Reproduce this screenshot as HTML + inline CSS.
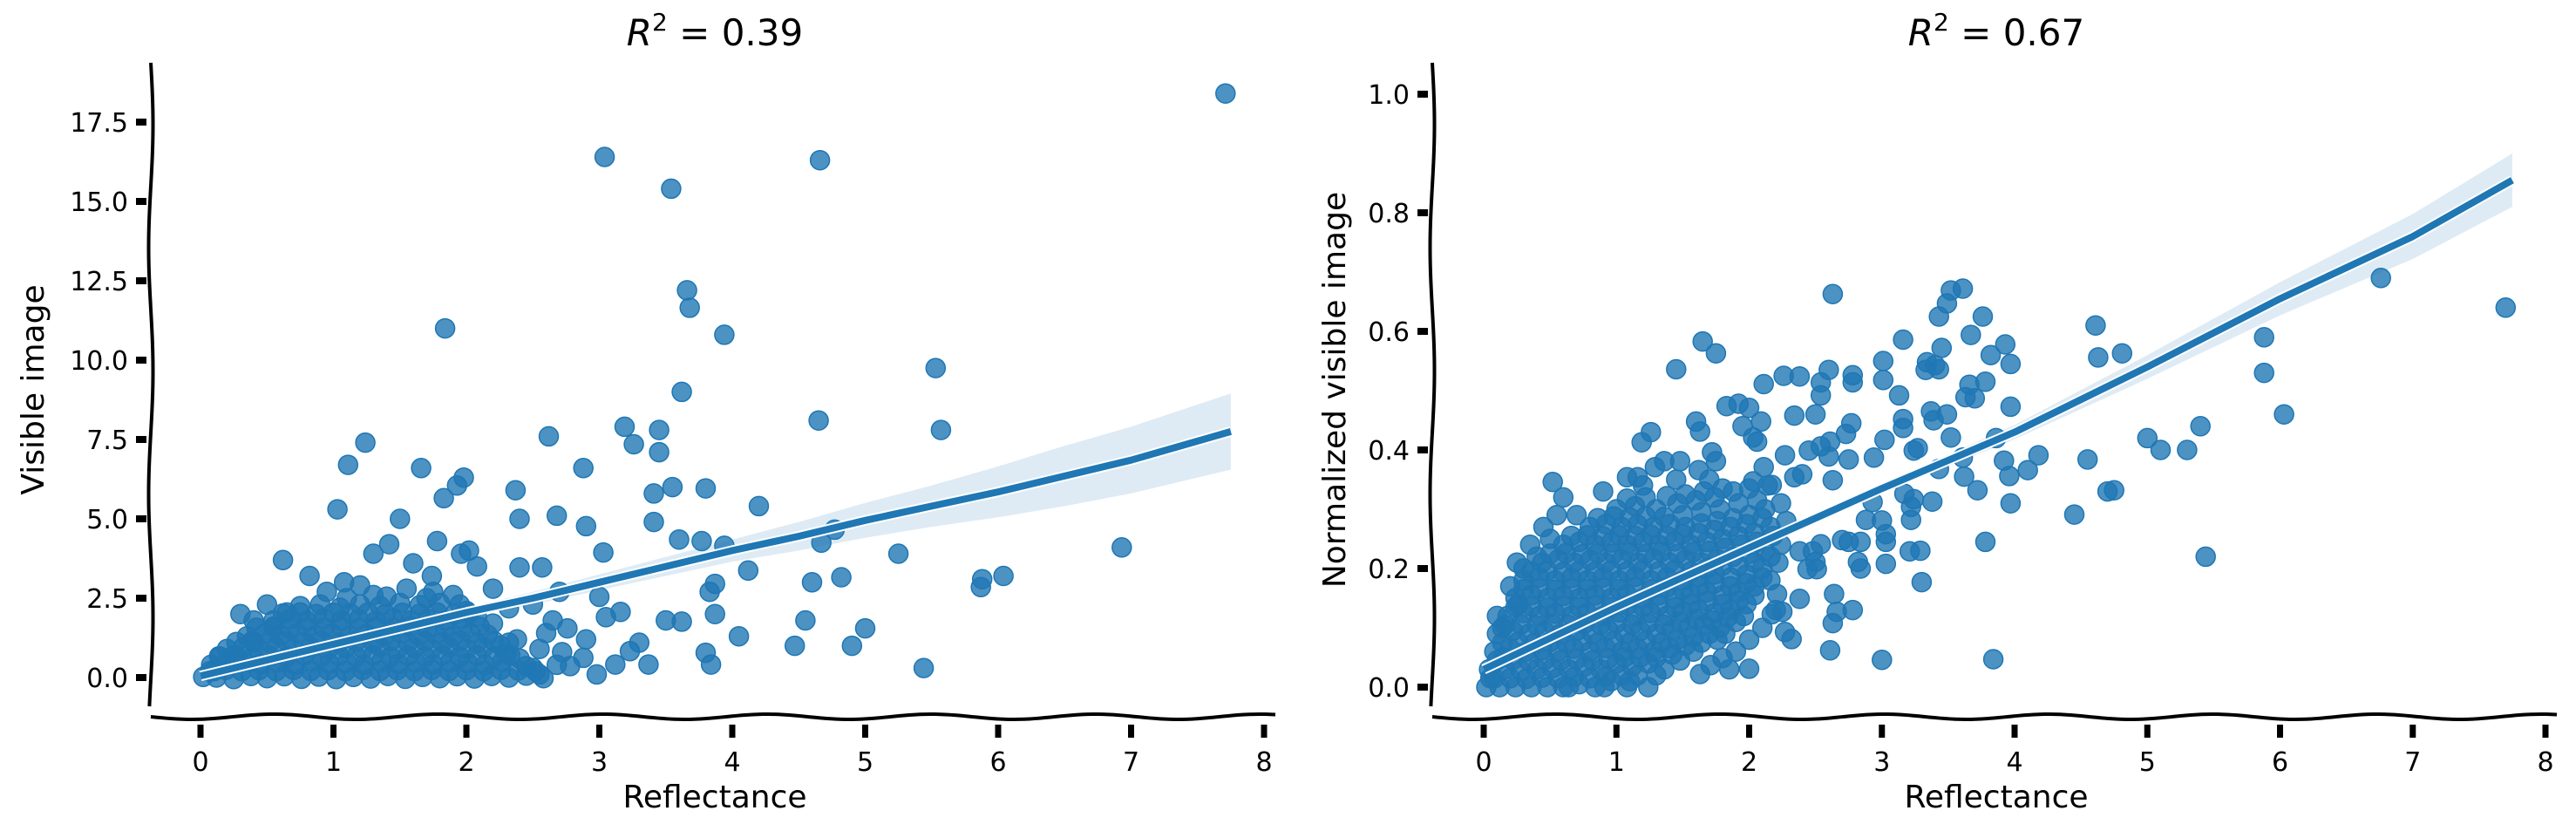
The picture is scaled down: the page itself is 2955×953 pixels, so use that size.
<!DOCTYPE html>
<html><head><meta charset="utf-8">
<style>
html,body{margin:0;padding:0;background:#fff;}
svg{display:block;}
text{font-family:"DejaVu Sans","Liberation Sans",sans-serif;fill:#000;}
</style></head>
<body>
<svg id="chart" width="2955" height="953" viewBox="0 0 2955 953" xmlns="http://www.w3.org/2000/svg">
  <g id="left-panel"></g>
  <g id="right-panel"></g>
</svg>
<script>
// ---------- LEFT PANEL DATA ----------
const leftXTicks = [0,1,2,3,4,5,6,7,8];
const leftYTicks = [0.0,2.5,5.0,7.5,10.0,12.5,15.0,17.5];
const leftYTickLabels = ["0.0","2.5","5.0","7.5","10.0","12.5","15.0","17.5"];
const leftOutliers = [
[7.71,18.4],[3.04,16.4],[4.66,16.3],[3.54,15.4],[3.66,12.2],[3.68,11.65],[1.84,11.0],[3.94,10.8],
[5.53,9.75],[3.62,9.0],[4.65,8.1],[5.57,7.8],[3.19,7.9],[3.45,7.8],[2.62,7.6],[1.24,7.4],[3.26,7.35],
[3.45,7.1],[1.11,6.7],[1.66,6.6],[2.88,6.6],[1.98,6.3],[1.93,6.05],[3.55,6.0],[3.80,5.96],[2.37,5.9],
[3.41,5.8],[1.83,5.65],[4.2,5.4],[1.03,5.3],[3.41,4.9],[2.68,5.1],[2.4,5.0],[1.5,5.0],[4.67,4.25],
[3.77,4.3],[3.6,4.35],[2.9,4.77],[4.77,4.66],[3.94,4.15],[5.25,3.9],[6.93,4.1],[4.82,3.16],[3.03,3.94],
[4.12,3.37],[3.87,2.95],[4.6,3.0],[5.88,3.1],[6.04,3.2],[5.87,2.85],[5.0,1.55],[4.9,1.0],[4.55,1.8],
[4.47,1.0],[5.44,0.3],[4.05,1.3],[3.8,0.78],[3.84,0.41],[3.5,1.8],[3.3,1.1],[3.12,0.41],[3.37,0.41],
[2.76,1.55],[2.88,0.62],[3.87,2.0],[3.62,1.76],[3.83,2.7],[3.16,2.07],[2.7,2.7],[2.57,3.47],[2.4,3.47],
[2.32,2.18],[3.0,2.54],[2.78,0.36],[2.45,0.36],[3.23,0.83],[1.96,3.9],[1.78,4.3],[1.42,4.2],[1.6,3.6],
[1.3,3.9],[0.62,3.7],[0.82,3.2],[1.08,3.0],[1.2,2.9],[2.02,4.0],[2.08,3.5],[1.74,3.2],[2.2,2.8],
[2.5,2.3],[2.6,1.4],[2.65,1.8],[2.72,0.8],[2.55,0.9],[2.9,1.2],[3.05,1.9],[2.98,0.1],[2.55,0.1],[2.68,0.4]
];
const leftCluster = [
[0.02,0.02],[0.12,0.0],[0.25,-0.05],[0.38,0.05],[0.5,-0.02],[0.63,0.04],[0.76,-0.04],[0.89,0.03],[1.02,-0.05],[1.15,0.02],
[1.28,-0.03],[1.41,0.05],[1.54,-0.04],[1.67,0.02],[1.8,-0.02],[1.93,0.04],[2.06,-0.03],[2.19,0.05],[2.32,0.0],[2.45,0.06],[2.58,-0.02],
[0.08,0.4],[0.2,0.45],[0.32,0.5],[0.45,0.42],[0.58,0.48],[0.71,0.4],[0.84,0.5],[0.97,0.44],[1.1,0.47],[1.23,0.4],
[1.36,0.5],[1.49,0.43],[1.62,0.48],[1.75,0.41],[1.88,0.5],[2.01,0.45],[2.14,0.4],[2.27,0.5],[2.4,0.6],
[0.2,0.9],[0.32,0.95],[0.44,0.88],[0.57,0.96],[0.7,0.9],[0.83,0.95],[0.96,0.87],[1.09,0.93],[1.22,0.9],[1.35,0.97],
[1.48,0.88],[1.61,0.94],[1.74,0.9],[1.87,0.96],[2.0,0.9],[2.13,0.95],[2.26,1.0],[2.38,1.2],
[0.35,1.3],[0.48,1.38],[0.6,1.32],[0.73,1.4],[0.86,1.33],[0.99,1.38],[1.12,1.3],[1.25,1.37],[1.38,1.32],[1.51,1.4],
[1.64,1.33],[1.77,1.38],[1.9,1.3],[2.03,1.4],[2.16,1.35],
[0.55,1.8],[0.68,1.85],[0.8,1.78],[0.93,1.86],[1.06,1.8],[1.19,1.84],[1.32,1.78],[1.45,1.86],[1.58,1.8],[1.71,1.85],[1.84,1.8],[1.97,1.86],[2.08,1.9],
[0.75,2.25],[0.9,2.3],[1.05,2.2],[1.2,2.3],[1.35,2.25],[1.5,2.35],[1.65,2.28],[1.8,2.35],[1.95,2.3],
[0.5,2.3],[0.4,1.8],[0.3,2.0],[0.95,2.7],[1.3,2.6],[1.55,2.8],[1.75,2.7],[1.9,2.6],
[0.1,0.2],[0.25,0.7],[0.15,0.65],[0.4,1.1],[0.55,1.6],[0.65,2.05],[1.1,2.5],[1.4,2.55],[1.7,2.5],[2.0,2.1],[2.2,1.7],[2.3,0.75],[2.5,0.3],
[0.07,0.2],[0.19,0.24],[0.31,0.2],[0.44,0.23],[0.57,0.2],[0.7,0.24],[0.83,0.21],[0.96,0.23],[1.09,0.2],[1.22,0.24],[1.35,0.21],[1.48,0.23],
[1.61,0.2],[1.74,0.24],[1.87,0.21],[2.0,0.23],[2.13,0.2],[2.26,0.24],[2.39,0.22],[2.52,0.2],
[0.14,0.67],[0.27,0.7],[0.39,0.65],[0.52,0.69],[0.65,0.66],[0.78,0.7],[0.91,0.65],[1.04,0.69],[1.17,0.66],[1.3,0.7],[1.43,0.65],[1.56,0.69],
[1.69,0.66],[1.82,0.7],[1.95,0.65],[2.08,0.69],[2.21,0.66],[2.33,0.7],
[0.27,1.12],[0.39,1.15],[0.52,1.1],[0.65,1.14],[0.78,1.11],[0.91,1.15],[1.04,1.1],[1.17,1.14],[1.3,1.11],[1.43,1.15],[1.56,1.1],[1.69,1.14],
[1.82,1.11],[1.95,1.15],[2.08,1.1],[2.21,1.14],[2.32,1.1],
[0.42,1.57],[0.55,1.6],[0.67,1.55],[0.8,1.59],[0.93,1.56],[1.06,1.6],[1.19,1.55],[1.32,1.59],[1.45,1.56],[1.58,1.6],[1.71,1.55],[1.84,1.59],[1.97,1.56],[2.1,1.6],
[0.62,2.02],[0.75,2.05],[0.87,2.0],[1.0,2.04],[1.13,2.01],[1.26,2.05],[1.39,2.0],[1.52,2.04],[1.65,2.01],[1.78,2.05],[1.91,2.0],[2.02,2.02]
];
const leftFitX  = [0,0.5,1,1.5,2,2.5,3,3.5,4,4.5,5,5.5,6,6.5,7,7.75];
const leftFitY  = [0.05,0.55,1.05,1.55,2.05,2.5,3.0,3.5,4.0,4.45,4.95,5.4,5.85,6.35,6.85,7.75];
const leftCiHalf= [0.1,0.08,0.08,0.1,0.15,0.2,0.25,0.3,0.35,0.45,0.55,0.65,0.8,0.95,1.05,1.2];

// ---------- RIGHT PANEL DATA ----------
const rightXTicks = [0,1,2,3,4,5,6,7,8];
const rightYTicks = [0.0,0.2,0.4,0.6,0.8,1.0];
const rightYTickLabels = ["0.0","0.2","0.4","0.6","0.8","1.0"];
const rightOutliers = [
[7.7,0.64],[6.76,0.69],[5.88,0.59],[5.88,0.53],[6.03,0.46],[5.4,0.44],[5.3,0.4],[5.44,0.22],[5.1,0.4],[5.0,0.42],[4.7,0.33],
[2.63,0.663],[3.52,0.669],[3.61,0.672],[3.49,0.647],[3.43,0.625],[3.76,0.625],[4.61,0.61],[3.16,0.586],[3.67,0.594],[3.93,0.578],
[3.45,0.572],[1.65,0.583],[1.75,0.563],[1.45,0.536],[3.82,0.56],[3.97,0.545],[4.63,0.556],[4.81,0.563],[3.01,0.55],
[3.34,0.548],[3.4,0.543],[3.33,0.535],[3.43,0.536],[2.6,0.535],[2.26,0.525],[2.38,0.524],[2.11,0.511],[2.54,0.514],
[2.54,0.492],[2.78,0.526],[2.78,0.514],[3.01,0.518],[3.13,0.492],[3.66,0.51],[3.78,0.515],[3.63,0.489],[3.7,0.487],
[1.83,0.474],[1.92,0.478],[2.0,0.471],[3.97,0.473],[3.37,0.465],[3.49,0.46],[3.39,0.45],[2.34,0.458],[2.5,0.46],
[3.16,0.452],[3.16,0.437],[2.09,0.448],[1.6,0.448],[1.63,0.431],[1.95,0.44],[2.77,0.445],[2.73,0.427],[1.26,0.43],
[1.19,0.413],[2.03,0.421],[2.06,0.414],[3.02,0.417],[3.52,0.421],[3.86,0.42],[3.27,0.403],[3.24,0.399],[2.61,0.414],
[2.54,0.406],[2.45,0.399],[2.6,0.389],[2.27,0.391],[2.75,0.384],[2.94,0.387],[3.61,0.387],[3.92,0.382],[4.18,0.391],
[4.55,0.384],[1.72,0.396],[1.75,0.381],[1.36,0.381],[1.48,0.381],[1.29,0.371],[2.11,0.371],[1.62,0.366],[3.43,0.368],
[3.62,0.355],[3.96,0.356],[4.1,0.366],[1.08,0.354],[1.16,0.354],[0.52,0.346],[2.4,0.359],[2.34,0.354],[2.63,0.349],
[2.17,0.341],[2.03,0.347],[3.72,0.332],[3.97,0.31],[4.75,0.332],[4.45,0.291],[3.17,0.326],[3.24,0.317],[3.22,0.304],
[3.38,0.313],[3.22,0.282],[2.93,0.312],[2.88,0.282],[3.0,0.281],[3.03,0.258],[3.03,0.245],[2.84,0.245],[2.75,0.245],
[2.7,0.248],[3.78,0.245],[3.29,0.23],[3.21,0.229],[3.3,0.177],[2.82,0.211],[2.84,0.2],[3.03,0.208],[2.54,0.241],
[2.48,0.229],[2.38,0.229],[2.5,0.211],[2.44,0.199],[2.51,0.199],[2.64,0.157],[2.66,0.127],[2.63,0.108],[2.78,0.13],
[2.38,0.149],[2.61,0.062],[3.0,0.046],[3.84,0.047],[2.0,0.031],[2.27,0.093],[2.32,0.081],[2.17,0.123],[2.25,0.127],
[2.21,0.157],[1.8,0.049],[1.71,0.037],[1.63,0.022],[1.24,0.0],[1.08,0.0],[0.91,0.0],[0.64,0.0]
];
const rightCluster = [
[0.02,0.0],[0.12,0.0],[0.24,0.0],[0.36,0.0],[0.48,0.0],[0.6,0.0],[0.72,0.005],[0.84,0.0],[0.96,0.01],[1.1,0.01],
[0.04,0.03],[0.16,0.03],[0.28,0.028],[0.4,0.03],[0.52,0.032],[0.64,0.03],[0.76,0.035],[0.88,0.03],[1.0,0.04],[1.12,0.035],[1.24,0.04],[1.36,0.03],[1.48,0.045],
[0.08,0.06],[0.2,0.065],[0.32,0.06],[0.44,0.062],[0.56,0.06],[0.68,0.065],[0.8,0.06],[0.92,0.066],[1.04,0.06],[1.16,0.065],[1.28,0.06],[1.4,0.066],[1.52,0.07],[1.64,0.075],[1.76,0.08],
[0.1,0.09],[0.22,0.095],[0.34,0.09],[0.46,0.094],[0.58,0.09],[0.7,0.095],[0.82,0.09],[0.94,0.096],[1.06,0.09],[1.18,0.095],[1.3,0.09],[1.42,0.096],[1.54,0.1],[1.66,0.105],[1.78,0.1],[1.9,0.11],
[0.18,0.12],[0.3,0.125],[0.42,0.12],[0.54,0.124],[0.66,0.12],[0.78,0.125],[0.9,0.12],[1.02,0.126],[1.14,0.12],[1.26,0.125],[1.38,0.12],[1.5,0.126],[1.62,0.13],[1.74,0.125],[1.86,0.13],[1.98,0.14],
[0.24,0.15],[0.36,0.155],[0.48,0.15],[0.6,0.154],[0.72,0.15],[0.84,0.155],[0.96,0.15],[1.08,0.156],[1.2,0.15],[1.32,0.155],[1.44,0.15],[1.56,0.156],[1.68,0.16],[1.8,0.155],[1.92,0.16],[2.04,0.17],[2.16,0.18],
[0.3,0.18],[0.42,0.185],[0.54,0.18],[0.66,0.184],[0.78,0.18],[0.9,0.185],[1.02,0.18],[1.14,0.186],[1.26,0.18],[1.38,0.185],[1.5,0.18],[1.62,0.186],[1.74,0.19],[1.86,0.185],[1.98,0.19],[2.1,0.2],[2.22,0.21],
[0.44,0.21],[0.56,0.215],[0.68,0.21],[0.8,0.214],[0.92,0.21],[1.04,0.215],[1.16,0.21],[1.28,0.216],[1.4,0.21],[1.52,0.215],[1.64,0.21],[1.76,0.216],[1.88,0.22],[2.0,0.225],[2.12,0.23],[2.24,0.24],
[0.6,0.24],[0.72,0.245],[0.84,0.24],[0.96,0.244],[1.08,0.24],[1.2,0.245],[1.32,0.24],[1.44,0.246],[1.56,0.24],[1.68,0.245],[1.8,0.25],[1.92,0.255],[2.04,0.26],[2.16,0.27],[2.28,0.28],
[0.8,0.27],[0.92,0.275],[1.04,0.27],[1.16,0.274],[1.28,0.27],[1.4,0.275],[1.52,0.27],[1.64,0.276],[1.76,0.28],[1.88,0.285],[2.0,0.29],[2.12,0.3],[2.24,0.31],
[1.0,0.3],[1.14,0.305],[1.3,0.3],[1.46,0.31],[1.6,0.315],[1.74,0.32],[1.88,0.33],[2.0,0.335],[2.14,0.34],
[0.14,0.1],[0.26,0.14],[0.5,0.25],[0.7,0.29],[0.6,0.32],[0.9,0.33],[1.2,0.34],[1.45,0.35],[1.7,0.35],
[0.1,0.12],[0.2,0.17],[0.3,0.2],[0.35,0.24],[0.45,0.27],[0.55,0.29],[0.25,0.21],[0.4,0.22],
[1.9,0.06],[2.0,0.08],[2.1,0.1],[2.2,0.13],[1.85,0.03],[0.05,0.015],[0.15,0.05],
[0.08,0.015],[0.2,0.015],[0.32,0.014],[0.44,0.016],[0.56,0.015],[0.68,0.017],[0.8,0.015],[0.92,0.018],[1.04,0.02],[1.16,0.02],[1.3,0.02],
[0.1,0.045],[0.22,0.046],[0.34,0.044],[0.46,0.046],[0.58,0.045],[0.7,0.047],[0.82,0.045],[0.94,0.048],[1.06,0.05],[1.18,0.05],[1.3,0.05],[1.42,0.055],[1.58,0.06],
[0.14,0.075],[0.26,0.076],[0.38,0.074],[0.5,0.076],[0.62,0.075],[0.74,0.077],[0.86,0.075],[0.98,0.078],[1.1,0.075],[1.22,0.078],[1.34,0.075],[1.46,0.08],[1.58,0.085],[1.7,0.09],[1.82,0.09],
[0.16,0.105],[0.28,0.106],[0.4,0.104],[0.52,0.106],[0.64,0.105],[0.76,0.107],[0.88,0.105],[1.0,0.108],[1.12,0.105],[1.24,0.108],[1.36,0.105],[1.48,0.11],[1.6,0.115],[1.72,0.112],[1.84,0.118],[1.96,0.12],
[0.24,0.135],[0.36,0.136],[0.48,0.134],[0.6,0.136],[0.72,0.135],[0.84,0.137],[0.96,0.135],[1.08,0.138],[1.2,0.135],[1.32,0.138],[1.44,0.135],[1.56,0.14],[1.68,0.145],[1.8,0.14],[1.92,0.145],[2.04,0.155],
[0.3,0.165],[0.42,0.166],[0.54,0.164],[0.66,0.166],[0.78,0.165],[0.9,0.167],[1.02,0.165],[1.14,0.168],[1.26,0.165],[1.38,0.168],[1.5,0.165],[1.62,0.17],[1.74,0.175],[1.86,0.17],[1.98,0.175],[2.1,0.185],
[0.36,0.195],[0.48,0.196],[0.6,0.194],[0.72,0.196],[0.84,0.195],[0.96,0.197],[1.08,0.195],[1.2,0.198],[1.32,0.195],[1.44,0.198],[1.56,0.195],[1.68,0.2],[1.8,0.205],[1.92,0.205],[2.04,0.21],[2.16,0.22],
[0.5,0.225],[0.62,0.226],[0.74,0.224],[0.86,0.226],[0.98,0.225],[1.1,0.227],[1.22,0.225],[1.34,0.228],[1.46,0.225],[1.58,0.228],[1.7,0.23],[1.82,0.235],[1.94,0.24],[2.06,0.245],[2.18,0.255],
[0.66,0.255],[0.78,0.256],[0.9,0.254],[1.02,0.256],[1.14,0.255],[1.26,0.257],[1.38,0.255],[1.5,0.258],[1.62,0.26],[1.74,0.265],[1.86,0.27],[1.98,0.275],[2.1,0.285],
[0.86,0.285],[0.98,0.288],[1.1,0.286],[1.22,0.288],[1.36,0.287],[1.5,0.29],[1.64,0.295],[1.78,0.3],[1.92,0.31],[2.06,0.315],
[1.08,0.318],[1.22,0.32],[1.38,0.322],[1.52,0.325],[1.66,0.33],[1.8,0.335]
];
const rightFitX  = [0,1,2,3,4,5,6,7,7.75];
const rightFitY  = [0.03,0.135,0.235,0.335,0.43,0.54,0.655,0.76,0.855];
const rightCiHalf= [0.015,0.008,0.006,0.008,0.012,0.02,0.028,0.038,0.045];

// ---------- DRAWING ----------
const NS = "http://www.w3.org/2000/svg";
function mk(tag, attrs, parent){
  const e = document.createElementNS(NS, tag);
  for (const k in attrs) e.setAttribute(k, attrs[k]);
  parent.appendChild(e);
  return e;
}
function wavyV(x, y1, y2, amp){
  let d = "M"+x+","+y1;
  for (let y=y1; y<=y2; y+=6){ d += " L"+(x+amp*Math.sin((y-y1)/45)).toFixed(2)+","+y; }
  return d;
}
function wavyH(y, x1, x2, amp){
  let d = "M"+x1+","+y;
  for (let x=x1; x<=x2; x+=6){ d += " L"+x+","+(y+amp*Math.sin((x-x1)/30)).toFixed(2); }
  return d;
}

function drawPanel(g, cfg){
  const sx = v => cfg.x0 + v*cfg.xs;
  const sy = v => cfg.y0 - v*cfg.ys;
  const up = cfg.fitX.map((x,i)=>sx(x).toFixed(1)+","+sy(cfg.fitY[i]+cfg.ci[i]).toFixed(1));
  const dn = cfg.fitX.map((x,i)=>sx(x).toFixed(1)+","+sy(cfg.fitY[i]-cfg.ci[i]).toFixed(1)).reverse();
  const band = mk("polygon",{points: up.concat(dn).join(" "), fill:"#1f77b4", "fill-opacity":"0.15"}, g);
  
  
  const pts = mk("g",{}, g);
  
  
  cfg.pts.forEach(p=>{
    const c = mk("circle",{cx:sx(p[0]).toFixed(1), cy:sy(p[1]).toFixed(1), r:11, fill:"#1f77b4", "fill-opacity":"0.8", stroke:"#1f77b4", "stroke-width":"1.5"}, pts);
    
    
  });
  const d = cfg.fitX.map((x,i)=>(i?"L":"M")+sx(x).toFixed(1)+","+sy(cfg.fitY[i]).toFixed(1)).join(" ");
  const o = mk("path",{d:d, fill:"none", stroke:"#fff", "stroke-width":"12", "stroke-linejoin":"round"}, g);
  
  
  const l = mk("path",{d:d, fill:"none", stroke:"#1f77b4", "stroke-width":"8", "stroke-linejoin":"round"}, g);
  
  
  const ya = mk("path",{d:wavyV(cfg.axX, cfg.top, cfg.axY-10, 2.5), fill:"none", stroke:"#000", "stroke-width":"4"}, g);
  
  
  const xa = mk("path",{d:wavyH(cfg.axY, cfg.axX, cfg.right, 3), fill:"none", stroke:"#000", "stroke-width":"4"}, g);
  
  
  cfg.yTicks.forEach((t,i)=>{
    const y = sy(t);
    const tk = mk("rect",{x:cfg.axX-17, y:y-4, width:12, height:8, fill:"#000"}, g);
    
    
    const tx = mk("text",{x:cfg.axX-26, y:y+11, "text-anchor":"end", "font-size":"30"}, g);
    tx.textContent = cfg.yLabels[i];
    
    
  });
  cfg.xTicks.forEach(t=>{
    const x = sx(t);
    const tk = mk("rect",{x:x-3.5, y:cfg.axY+9, width:7, height:15, fill:"#000"}, g);
    
    
    const tx = mk("text",{x:x, y:cfg.axY+62, "text-anchor":"middle", "font-size":"30"}, g);
    tx.textContent = String(t);
    
    
  });
  const xl = mk("text",{x:cfg.xlabX, y:926, "text-anchor":"middle", "font-size":"36"}, g);
  xl.textContent = "Reflectance";
  
  
  const yl = mk("text",{x:0, y:0, "text-anchor":"middle", "font-size":"36", transform:"translate("+cfg.ylabX+","+cfg.ylabY+") rotate(-90)"}, g);
  yl.textContent = cfg.ylab;
  
  
  const ti = mk("text",{x:cfg.xlabX, y:52, "text-anchor":"middle", "font-size":"42"}, g);
  
  
  const r = mk("tspan",{"font-style":"italic"}, ti); r.textContent = "R";
  const s = mk("tspan",{"font-size":"28", dy:"-17"}, ti); s.textContent = "2";
  const rest = mk("tspan",{dy:"17"}, ti); rest.textContent = " = " + cfg.r2;
}

drawPanel(document.getElementById("left-panel"), {
  x0:230, xs:152.5, y0:777, ys:36.4, axX:173, axY:822, top:72, right:1467,
  fitX:leftFitX, fitY:leftFitY, ci:leftCiHalf, pts:leftCluster.concat(leftOutliers),
  xTicks:leftXTicks, yTicks:leftYTicks, yLabels:leftYTickLabels,
  xlabX:820, ylab:"Visible image", ylabX:50, ylabY:447, r2:"0.39"
});
drawPanel(document.getElementById("right-panel"), {
  x0:1702, xs:152.25, y0:788, ys:680, axX:1643, axY:822, top:72, right:2935,
  fitX:rightFitX, fitY:rightFitY, ci:rightCiHalf, pts:rightCluster.concat(rightOutliers),
  xTicks:rightXTicks, yTicks:rightYTicks, yLabels:rightYTickLabels,
  xlabX:2290, ylab:"Normalized visible image", ylabX:1543, ylabY:447, r2:"0.67"
});
</script>
</body></html>
